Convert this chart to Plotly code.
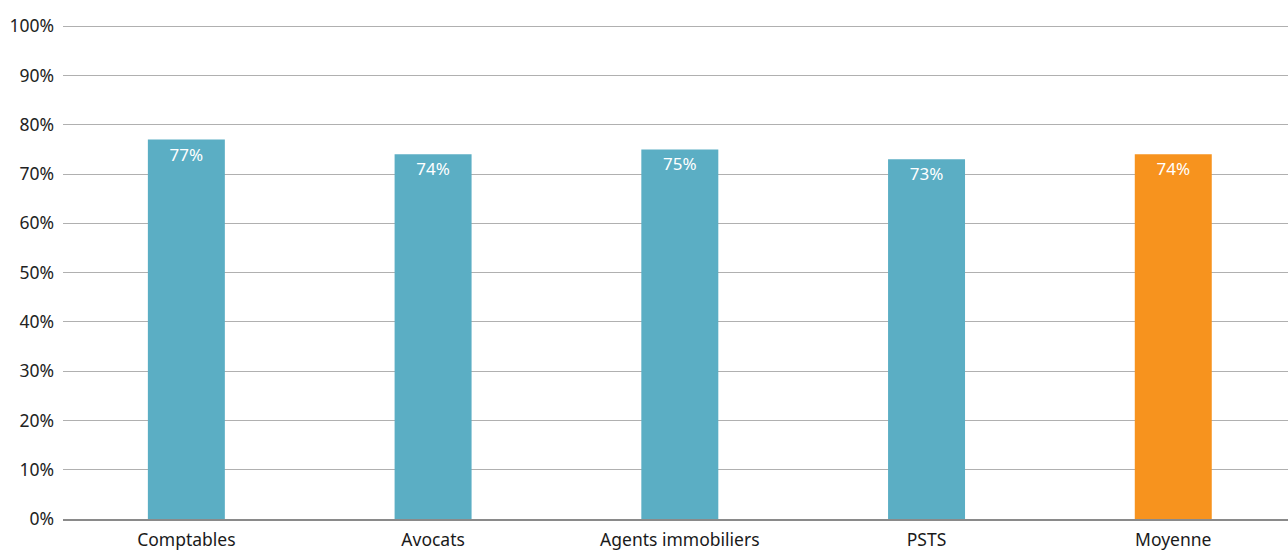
import plotly.graph_objects as go

categories = ["Comptables", "Avocats", "Agents immobiliers", "PSTS", "Moyenne"]
values = [77, 74, 75, 73, 74]
labels = ["77%", "74%", "75%", "73%", "74%"]
colors = ["#5BAEC4", "#5BAEC4", "#5BAEC4", "#5BAEC4", "#F7931E"]
ytick_vals = [0, 10, 20, 30, 40, 50, 60, 70, 80, 90, 100]
ytick_text = [f"{v}%" for v in ytick_vals]

fig = go.Figure(go.Bar(
    x=categories, y=values, text=labels,
    marker=dict(color=colors, line=dict(width=0)),
    width=0.312,
    textposition="inside", insidetextanchor="end",
    textfont=dict(color="white", size=17, family="Noto Sans"),
    textangle=0,
))
fig.update_layout(
    width=1288, height=550,
    margin=dict(l=63, r=0, t=25, b=31),
    plot_bgcolor="white", paper_bgcolor="white",
    showlegend=False,
    font=dict(family="Noto Sans", size=16, color="#222222"),
    xaxis=dict(range=[-0.5, 4.465], showgrid=False, showline=True, linecolor="#8a8a8a", linewidth=2,
               ticks="", ticklabelstandoff=4, tickfont=dict(size=17.5, color="#1a1a1a")),
    yaxis=dict(range=[0, 100.25], tickvals=ytick_vals, ticktext=ytick_text,
               showgrid=True, gridcolor="#b0b0b0", gridwidth=1, zeroline=False,
               showline=False, ticks="", ticklabelstandoff=8,
               tickfont=dict(size=17.5, color="#222222")),
)
fig.write_html("out.html")
